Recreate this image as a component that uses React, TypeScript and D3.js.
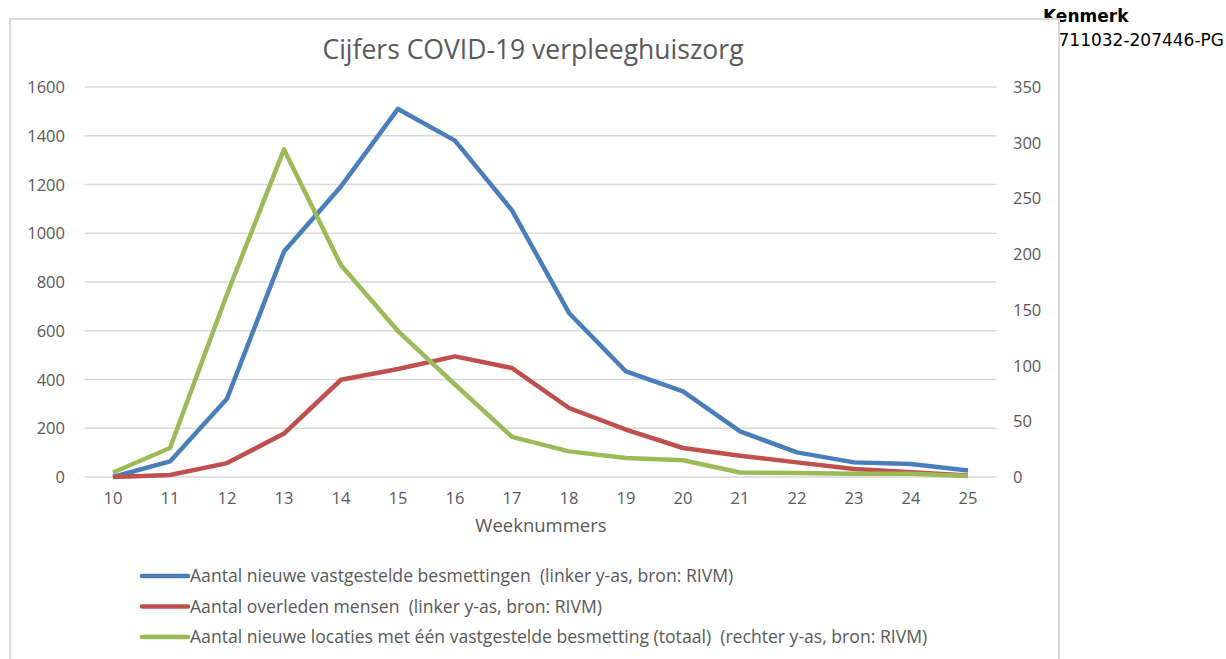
import { useEffect, useRef } from 'react';
import * as d3 from 'd3';

const weeks = [10, 11, 12, 13, 14, 15, 16, 17, 18, 19, 20, 21, 22, 23, 24, 25];
const besmettingen = [0, 64, 321, 925, 1192, 1510, 1380, 1094, 673, 433, 351, 187, 101, 60, 53, 27];
const overleden = [0, 8, 57, 178, 399, 443, 495, 447, 283, 194, 119, 87, 60, 33, 19, 6];
const locaties = [4, 26, 164, 294, 190, 131, 83, 36, 23, 17, 15, 4, 3.5, 3, 3, 1];
const leftTicks = [0, 200, 400, 600, 800, 1000, 1200, 1400, 1600];
const rightTicks = [0, 50, 100, 150, 200, 250, 300, 350];

const seriesNames = [
  'Aantal nieuwe vastgestelde besmettingen  (linker y-as, bron: RIVM)',
  'Aantal overleden mensen  (linker y-as, bron: RIVM)',
  'Aantal nieuwe locaties met één vastgestelde besmetting (totaal)  (rechter y-as, bron: RIVM)',
];
const seriesColors = ['#4a7ebb', '#c0504d', '#9bbb59'];

export default function App() {
  const svgRef = useRef<SVGSVGElement>(null);

  useEffect(() => {
    if (!svgRef.current) return;
    const width = 1226;
    const height = 659;
    const font = '"Open Sans", sans-serif';
    const grey = '#595959';

    d3.select(svgRef.current).selectAll('*').remove();
    const svg = d3.select(svgRef.current).attr('width', width).attr('height', height);

    // document text behind the chart frame
    svg
      .append('text')
      .attr('x', 1043)
      .attr('y', 22)
      .style('font-family', '"DejaVu Sans", Verdana, sans-serif')
      .style('font-size', '17px')
      .style('font-weight', 'bold')
      .style('fill', '#000')
      .text('Kenmerk');
    svg
      .append('text')
      .attr('x', 1224)
      .attr('y', 46)
      .attr('text-anchor', 'end')
      .style('font-family', '"DejaVu Sans", Verdana, sans-serif')
      .style('font-size', '17px')
      .style('fill', '#000')
      .text('1711032-207446-PG');

    // chart frame
    svg
      .append('rect')
      .attr('x', 10)
      .attr('y', 19)
      .attr('width', 1049)
      .attr('height', 700)
      .attr('fill', '#fff')
      .attr('stroke', '#d9d9d9')
      .attr('stroke-width', 2);

    const x = d3
      .scaleBand<number>()
      .domain(weeks)
      .range([84.5, 996.5]);
    const cx = (w: number) => (x(w) || 0) + x.bandwidth() / 2;
    const yLeft = d3.scaleLinear().domain([0, 1600]).range([477, 87]);
    const yRight = d3.scaleLinear().domain([0, 350]).range([477, 87]);

    // title
    svg
      .append('text')
      .attr('x', 533)
      .attr('y', 59)
      .attr('text-anchor', 'middle')
      .style('font-family', font)
      .style('font-size', '26.5px')
      .style('fill', grey)
      .text('Cijfers COVID-19 verpleeghuiszorg');

    // gridlines
    svg
      .selectAll('.grid')
      .data(leftTicks)
      .enter()
      .append('line')
      .attr('x1', 84.5)
      .attr('x2', 996.5)
      .attr('y1', (d) => yLeft(d))
      .attr('y2', (d) => yLeft(d))
      .attr('stroke', '#d9d9d9')
      .attr('stroke-width', 1.5);

    // left axis labels
    svg
      .selectAll('.ltick')
      .data(leftTicks)
      .enter()
      .append('text')
      .attr('x', 65)
      .attr('y', (d) => yLeft(d) + 6)
      .attr('text-anchor', 'end')
      .style('font-family', font)
      .style('font-size', '16.5px')
      .style('fill', grey)
      .text((d) => d);

    // right axis labels
    svg
      .selectAll('.rtick')
      .data(rightTicks)
      .enter()
      .append('text')
      .attr('x', 1013)
      .attr('y', (d) => yRight(d) + 6)
      .style('font-family', font)
      .style('font-size', '16.5px')
      .style('fill', grey)
      .text((d) => d);

    // x labels
    svg
      .selectAll('.xtick')
      .data(weeks)
      .enter()
      .append('text')
      .attr('x', (d) => cx(d))
      .attr('y', 504)
      .attr('text-anchor', 'middle')
      .style('font-family', font)
      .style('font-size', '16.5px')
      .style('fill', grey)
      .text((d) => d);

    svg
      .append('text')
      .attr('x', 541)
      .attr('y', 532)
      .attr('text-anchor', 'middle')
      .style('font-family', font)
      .style('font-size', '18.5px')
      .style('fill', grey)
      .text('Weeknummers');

    // lines
    const series = [
      { values: besmettingen, y: yLeft },
      { values: overleden, y: yLeft },
      { values: locaties, y: yRight },
    ];
    series.forEach((s, i) => {
      const line = d3
        .line<number>()
        .x((_, j) => cx(weeks[j]))
        .y((d) => s.y(d));
      svg
        .append('path')
        .datum(s.values)
        .attr('d', line)
        .attr('fill', 'none')
        .attr('stroke', seriesColors[i])
        .attr('stroke-width', 4.5)
        .attr('stroke-linejoin', 'round');
    });

    // legend
    const legend = svg
      .selectAll('.legend')
      .data(seriesNames)
      .enter()
      .append('g')
      .attr('transform', (_, i) => `translate(142, ${576 + i * 30.5})`);
    legend
      .append('line')
      .attr('x1', 0)
      .attr('x2', 46)
      .attr('stroke', (_, i) => seriesColors[i])
      .attr('stroke-width', 4.5)
      .attr('stroke-linecap', 'round');
    legend
      .append('text')
      .attr('x', 48)
      .attr('y', 6)
      .style('font-family', font)
      .style('font-size', '17.6px')
      .style('white-space', 'pre')
      .style('fill', grey)
      .text((d) => d);
  }, []);

  return (
    <div style={{ position: 'absolute', left: 0, top: 0 }}>
      <svg ref={svgRef} style={{ display: 'block' }} />
    </div>
  );
}
